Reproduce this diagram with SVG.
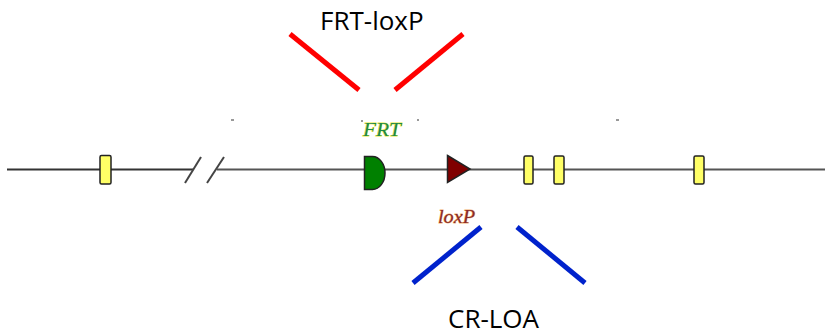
<svg xmlns="http://www.w3.org/2000/svg" width="825" height="336" viewBox="0 0 825 336">
<style>
.exon{fill:#ffff66;stroke:#222;stroke-width:1.5}
.lbl{font-family:"Open Sans","Liberation Sans",sans-serif;font-size:26px;fill:#000}
.feat{font-family:"Liberation Serif",serif;font-style:italic;font-size:19px;paint-order:stroke}
.red{stroke:#ff0000;stroke-width:5;fill:none}
.blue{stroke:#0022cc;stroke-width:5;fill:none}
.dot{fill:#999}
</style>
<rect width="825" height="336" fill="#fff"/>
<g id="connectors">
<line x1="7" y1="169.5" x2="193" y2="169.5" stroke="#333" stroke-width="2"/>
<line x1="217" y1="169.5" x2="825" y2="169.5" stroke="#555" stroke-width="2.2"/>
<line x1="185" y1="183" x2="201" y2="157" stroke="#444" stroke-width="2"/>
<line x1="207" y1="183" x2="224" y2="157" stroke="#444" stroke-width="2"/>
<line class="red" x1="290" y1="34" x2="359" y2="90"/>
<line class="red" x1="395" y1="90" x2="463" y2="34"/>
<line class="blue" x1="413" y1="283" x2="481" y2="227"/>
<line class="blue" x1="517" y1="227" x2="585" y2="283"/>
</g>
<g id="exon1"><rect class="exon" x="100" y="155.5" width="11" height="28.5" rx="1.5"/></g>
<g id="exon2"><rect class="exon" x="524" y="156" width="9" height="28" rx="1.5"/></g>
<g id="exon3"><rect class="exon" x="554" y="156" width="10" height="28" rx="1.5"/></g>
<g id="exon4"><rect class="exon" x="694" y="156" width="10" height="28" rx="1.5"/></g>
<g id="frt">
<path d="M364.5,156.5 h8 a12.5,16.5 0 0 1 0,33 h-8 z" fill="#008000" stroke="#222" stroke-width="1.5"/>
<text class="feat" x="363" y="136" textLength="38" lengthAdjust="spacingAndGlyphs" fill="#1e8a4a" stroke="#e8e840" stroke-width="0.9">FRT</text>
</g>
<g id="loxp">
<path d="M447.5,155.5 L470,169 L447.5,182.5 z" fill="#800000" stroke="#222" stroke-width="1.5"/>
<text class="feat" x="438" y="223" textLength="37" lengthAdjust="spacingAndGlyphs" fill="#8b2a2a" stroke="#f0b070" stroke-width="0.9">loxP</text>
</g>
<g id="label-frt-loxp"><text class="lbl" x="320" y="30">FRT-loxP</text></g>
<g id="label-cr-loa"><text class="lbl" x="448" y="328">CR-LOA</text></g>
<g id="specks">
<rect class="dot" x="231" y="119" width="3" height="2"/>
<rect class="dot" x="361" y="120" width="2" height="2"/>
<rect class="dot" x="417" y="119" width="2" height="2"/>
<rect class="dot" x="616" y="119" width="3" height="2"/>
</g>
</svg>
